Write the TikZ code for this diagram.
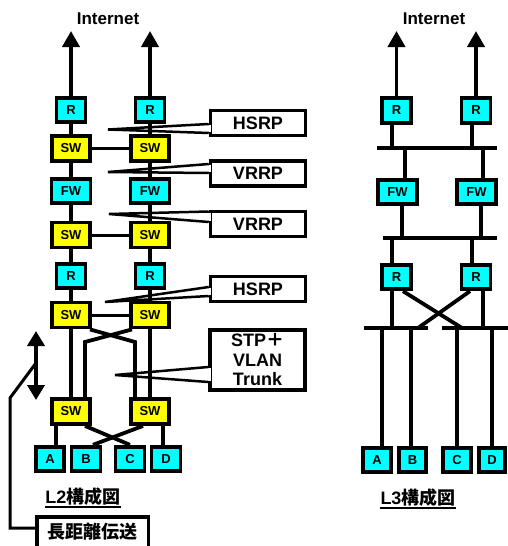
\documentclass[tikz,border=0pt]{standalone}
\usepackage{fontspec}
\setmainfont{Liberation Sans}
\newfontfamily\cjk{Noto Sans CJK JP}
\usetikzlibrary{arrows.meta,calc}
\pgfdeclarelayer{bg}
\pgfsetlayers{bg,main}
\definecolor{devcyan}{RGB}{0,255,255}
\definecolor{devyellow}{RGB}{255,255,0}
\begin{document}
\begin{tikzpicture}[x=1pt,y=-1pt,
  dev/.style={draw, line width=3.8pt, inner sep=0pt, font=\bfseries\fontsize{13}{13}\selectfont},
  rbox/.style={dev, fill=devcyan, minimum width=29pt, minimum height=24.5pt},
  swbox/.style={dev, fill=devyellow, minimum width=38.5pt, minimum height=25pt},
  fwbox/.style={dev, fill=devcyan, minimum width=39pt, minimum height=24.5pt},
  pcbox/.style={dev, fill=devcyan, minimum width=27.5pt, minimum height=24.5pt},
  link/.style={line width=3.8pt},
  hlink/.style={line width=3pt},
  up/.style={link, -{Triangle[width=17pt,length=16pt]}},
  callout/.style={draw, line width=3.5pt, fill=white, inner sep=0pt, minimum width=95pt, minimum height=25pt, font=\bfseries\fontsize{18}{19.5}\selectfont, align=center},
  ptr/.style={line width=2.5pt},
  titletxt/.style={font=\bfseries\fontsize{17}{17}\selectfont, inner sep=0pt, anchor=base},
  figlbl/.style={font=\bfseries\fontsize{18}{18}\selectfont, inner sep=0pt, anchor=base},
]
\useasboundingbox (0,0) rectangle (507,546);

% ---------------- L2 ----------------
\node[titletxt] (inet1) at (108,24) {Internet};
\node[rbox] (r1l) at (71,110) {R};
\node[rbox] (r1r) at (150,110) {R};
\node[swbox] (s1l) at (71,148.5) {SW};
\node[swbox] (s1r) at (150,148.5) {SW};
\node[fwbox] (f1l) at (71,191) {FW};
\node[fwbox] (f1r) at (150,191) {FW};
\node[swbox] (s2l) at (71,235) {SW};
\node[swbox] (s2r) at (150,235) {SW};
\node[rbox] (r2l) at (71,276) {R};
\node[rbox] (r2r) at (150,276) {R};
\node[swbox] (s3l) at (71,315) {SW};
\node[swbox] (s3r) at (150,315) {SW};
\node[swbox] (s4l) at (71,411.5) {SW};
\node[swbox] (s4r) at (150,411.5) {SW};
\node[pcbox] (pA) at (50,459) {A};
\node[pcbox, minimum width=29pt] (pB) at (86,459) {B};
\node[pcbox, minimum width=29pt] (pC) at (130,459) {C};
\node[pcbox, minimum width=29pt] (pD) at (166,459) {D};

\coordinate (in1l) at (71,31);
\coordinate (in1r) at (150,31);
\coordinate (k1) at (135,342);
\coordinate (k2) at (85,342);

\begin{pgfonlayer}{bg}
  \draw[up] (r1l.north) -- (in1l);
  \draw[up] (r1r.north) -- (in1r);
  \draw[link] (r1l) -- (s1l) -- (f1l) -- (s2l) -- (r2l) -- (s3l) -- (s4l);
  \draw[link] (r1r) -- (s1r) -- (f1r) -- (s2r) -- (r2r) -- (s3r) -- (s4r);
  \draw[hlink] (s1l) -- (s1r);
  \draw[hlink] (s2l) -- (s2r);
  \draw[hlink] (s3l) -- (s3r);
  \draw[link] ($(s3l.south)+(19,0)$) -- (k1) -- (k1 |- s4r.north);
  \draw[link] ($(s3r.south)+(-18,0)$) -- (k2) -- (k2 |- s4l.north);
  \draw[link] ($(s4l.south)+(-15,0)$) -- ($(pA.north)+(6,0)$);
  \draw[link] ($(s4l.south)+(14,0)$) -- (pC.north);
  \draw[link] ($(s4r.south)+(-7,0)$) -- ($(pB.north)+(7,0)$);
  \draw[link] ($(s4r.south)+(13,0)$) -- ($(pD.north)+(-3,0)$);
\end{pgfonlayer}

% callouts
\node[callout] (h1) at (258,123) {HSRP};
\node[callout] (v1) at (258,173.5) {VRRP};
\node[callout] (v2) at (258,224) {VRRP};
\node[callout] (h2) at (258,289) {HSRP};
\node[callout, minimum height=60pt] (stp) at (257.5,360) {STP{\cjk ＋}\\VLAN\\Trunk};

\newcommand\ptrto[4]{%
  \coordinate (#1pa) at (#1.west |- 0,#3);
  \coordinate (#1pb) at (#1.west |- 0,#4);
  \fill[white] ($(#1pa)+(-2,1.2)$) rectangle ($(#1pb)+(2.5,-1.2)$);
  \draw[ptr] (#1pa) -- (#2) -- (#1pb);
}
\coordinate (th1) at (108,129.5);
\coordinate (tv1) at (108,172);
\coordinate (tv2) at (109,214);
\coordinate (th2) at (105,302);
\coordinate (tstp) at (115,375);
\ptrto{h1}{th1}{124}{133}
\ptrto{v1}{tv1}{164}{173}
\ptrto{v2}{tv2}{211.5}{222}
\ptrto{h2}{th2}{287}{296}
\ptrto{stp}{tstp}{367}{382}

% long distance
\node[callout, minimum width=111.5pt, minimum height=30.5pt] (lbox) at (92.5,532) {\cjk 長距離伝送};
\coordinate (ldt) at (36,331);
\coordinate (ldb) at (36,400);
\coordinate (ldm) at (36,363);
\coordinate (ldk) at (10,398);
\draw[link, {Triangle[width=17pt,length=15pt]}-{Triangle[width=17pt,length=15pt]}] (ldt) -- (ldb);
\draw[hlink] (ldm) -- (ldk) -- (ldk |- 0,528) -- (lbox.west |- 0,528);

\node[figlbl] (l2) at (83,503) {L2{\cjk 構成図}};
\draw[line width=2pt] ($(l2.base west)+(0,3.5)$) -- ($(l2.base east)+(0,3.5)$);

% ---------------- L3 ----------------
\node[titletxt] (inet2) at (434,24) {Internet};
\node[rbox] (r3a) at (396.5,110.5) {R};
\node[rbox] (r3b) at (476,110.5) {R};
\node[fwbox] (f3a) at (397.5,192) {FW};
\node[fwbox] (f3b) at (476.5,192) {FW};
\node[rbox] (r4a) at (396.5,277) {R};
\node[rbox] (r4b) at (476,277) {R};
\node[pcbox, minimum width=28.5pt] (qA) at (377,460) {A};
\node[pcbox] (qB) at (412.5,460) {B};
\node[pcbox, minimum width=28.5pt] (qC) at (457,460) {C};
\node[pcbox, minimum width=26.5pt] (qD) at (492,460) {D};

\coordinate (in2a) at (396.5,31);
\coordinate (in2b) at (476,31);
\coordinate (b1w) at (377,148);
\coordinate (b1e) at (497,148);
\coordinate (b2w) at (383,238);
\coordinate (b2e) at (497,238);
\coordinate (b3w) at (364,328);
\coordinate (b3m) at (428,328);
\coordinate (b3n) at (442,328);
\coordinate (b3e) at (510,328);

\begin{pgfonlayer}{bg}
  \draw[up] (r3a.north) -- (in2a);
  \draw[up] (r3b.north) -- (in2b);
  \draw[link] (b1w) -- (b1e);
  \draw[link] (b2w) -- (b2e);
  \draw[link] (b3w) -- (b3m);
  \draw[link] (b3n) -- (b3e);
  \draw[link] (r3a.south -| 392,0) -- (b1w -| 392,0);
  \draw[link] (r3b.south -| 472,0) -- (b1w -| 472,0);
  \draw[link] (b1w -| 405,0) -- (f3a.north -| 405,0);
  \draw[link] (b1w -| 483,0) -- (f3b.north -| 483,0);
  \draw[link] (f3a.south -| 402,0) -- (b2w -| 402,0);
  \draw[link] (f3b.south -| 481,0) -- (b2w -| 481,0);
  \draw[link] (b2w -| 392,0) -- (r4a.north -| 392,0);
  \draw[link] (b2w -| 472,0) -- (r4b.north -| 472,0);
  \draw[link] (r4a.south -| 392,0) -- (b3w -| 392,0);
  \draw[link] (r4a.south -| 403,0) -- (b3w -| 462,0);
  \draw[link] (r4b.south -| 483,0) -- (b3w -| 483,0);
  \draw[link] (r4b.south -| 470,0) -- (b3w -| 418,0);
  \draw[link] (b3w -| 382,0) -- (qA.north -| 382,0);
  \draw[link] (b3w -| 411,0) -- (qB.north -| 411,0);
  \draw[link] (b3w -| 457,0) -- (qC.north -| 457,0);
  \draw[link] (b3w -| 492,0) -- (qD.north -| 492,0);
\end{pgfonlayer}

\node[figlbl] (l3) at (418,504) {L3{\cjk 構成図}};
\draw[line width=2pt] ($(l3.base west)+(0,3.5)$) -- ($(l3.base east)+(0,3.5)$);
\end{tikzpicture}
\end{document}
